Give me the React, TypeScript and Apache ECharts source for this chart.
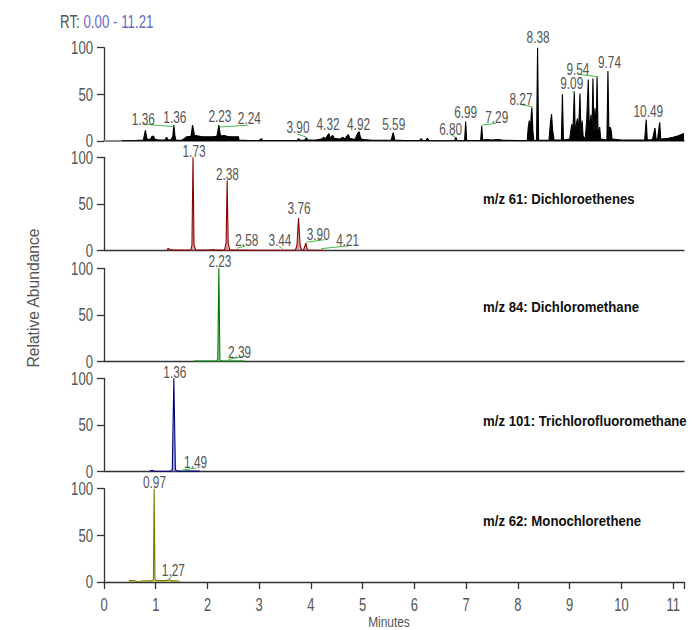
import React, { useEffect, useRef } from "react";
import * as echarts from "echarts";

const FONT = "'Liberation Sans', Arimo, Arial, sans-serif";

// x extent (minutes)
const xMin = 0;
const xMax = 11.21;
const xTickLabels = [0, 1, 2, 3, 4, 5, 6, 7, 8, 9, 10, 11];
const yTicks = [0, 50, 100];

// Total ion chromatogram [min, %]
const ticData: number[][] = [
  [0.35, 0.3], [0.6, 0.5], [0.76, 1], [0.78, 6], [0.8, 11.5], [0.82, 5], [0.84, 1.5], [0.9, 2], [0.93, 5], [0.96, 5], [0.98, 2],
  [1.05, 1], [1.18, 1], [1.21, 4], [1.24, 1], [1.3, 1.5], [1.33, 5], [1.35, 17], [1.37, 6], [1.39, 1], [1.5, 0.8], [1.55, 2.5],
  [1.6, 4.5], [1.68, 5], [1.7, 12], [1.71, 17], [1.73, 12], [1.75, 6], [1.85, 5], [1.9, 4.5], [2.0, 4.5], [2.1, 4.5], [2.18, 5],
  [2.2, 10], [2.22, 17], [2.24, 9], [2.26, 5], [2.3, 6], [2.38, 5], [2.45, 4.5], [2.6, 4.5], [2.61, 1], [2.8, 0.5], [3.0, 0.5],
  [3.04, 2.5], [3.07, 0.5], [3.5, 0.5], [3.74, 0.8], [3.76, 2.5], [3.79, 0.8], [3.88, 1], [3.91, 3.5], [3.94, 1], [4.1, 1],
  [4.2, 2], [4.25, 4], [4.28, 2], [4.32, 6], [4.35, 8], [4.37, 3], [4.42, 6], [4.45, 3], [4.55, 2], [4.62, 4], [4.65, 2],
  [4.72, 7], [4.75, 3], [4.85, 1.5], [4.9, 8], [4.93, 10], [4.96, 3], [5.0, 1.5], [5.2, 0.8], [5.55, 0.8], [5.59, 9], [5.62, 1],
  [5.8, 0.5], [6.1, 0.5], [6.13, 2.5], [6.16, 0.5], [6.22, 0.5], [6.25, 3], [6.28, 0.5], [6.5, 0.3], [6.78, 0.5], [6.8, 4],
  [6.82, 0.5], [6.97, 0.5], [6.99, 21], [7.01, 0.5], [7.28, 0.5], [7.3, 16], [7.32, 1], [7.4, 1.5], [7.5, 1], [7.6, 1.5],
  [7.7, 1], [8.0, 0.5], [8.18, 0.5], [8.2, 15], [8.22, 22], [8.24, 12], [8.26, 30], [8.27, 36], [8.29, 10], [8.31, 0.5],
  [8.36, 0.5], [8.38, 100], [8.4, 1], [8.6, 0.8], [8.63, 20], [8.65, 29], [8.67, 12], [8.7, 1], [8.84, 1], [8.86, 50],
  [8.88, 1], [9.0, 2], [9.04, 18], [9.06, 5], [9.09, 53], [9.11, 3], [9.13, 18], [9.15, 24], [9.17, 8], [9.2, 51], [9.22, 3],
  [9.24, 22], [9.26, 5], [9.3, 2], [9.33, 22], [9.36, 66], [9.38, 10], [9.41, 28], [9.43, 5], [9.45, 67], [9.47, 10],
  [9.49, 35], [9.51, 8], [9.53, 69], [9.55, 5], [9.58, 15], [9.6, 2], [9.72, 1], [9.74, 75], [9.76, 3], [9.78, 15],
  [9.8, 12], [9.82, 2], [10.0, 1], [10.45, 1], [10.48, 23], [10.5, 1], [10.6, 1.5], [10.65, 14], [10.67, 1.5], [10.7, 2],
  [10.74, 20], [10.76, 2], [10.9, 3], [11.0, 4], [11.1, 5.5], [11.21, 8],
];

// m/z 61: Dichloroethenes
const mz61Data: number[][] = [
  [1.22, 0.5], [1.24, 2.5], [1.27, 1], [1.35, 0.5], [1.5, 0.5], [1.68, 0.8], [1.7, 6], [1.72, 100], [1.74, 6], [1.77, 0.8],
  [2.0, 0.5], [2.12, 1.2], [2.14, 0.5], [2.33, 0.5], [2.36, 8], [2.38, 75], [2.4, 8], [2.43, 0.5], [2.6, 0.5], [3.0, 0.3],
  [3.5, 0.3], [3.7, 0.5], [3.73, 6], [3.76, 35], [3.79, 6], [3.82, 0.5], [3.86, 1], [3.9, 8], [3.93, 1], [3.98, 0.3], [4.24, 0.3],
];

// m/z 84: Dichloromethane
const mz84Data: number[][] = [
  [1.74, 0.7], [2.0, 0.7], [2.18, 0.7], [2.2, 3], [2.22, 100], [2.24, 2], [2.26, 0.7], [2.5, 0.7], [2.72, 0.7],
];

// m/z 101: Trichlorofluoromethane
const mz101Data: number[][] = [
  [0.88, 0.5], [0.93, 1.2], [0.97, 0.5], [1.1, 0.3], [1.28, 0.3], [1.32, 2], [1.35, 100], [1.38, 2], [1.42, 0.5], [1.6, 0.5], [1.85, 0.5],
];

// m/z 62: Monochlorethene
const mz62Data: number[][] = [
  [0.48, 1.5], [0.58, 1.5], [0.63, 0.5], [0.68, 0], [0.72, 1], [0.85, 1.2], [0.94, 1.2], [0.955, 3], [0.97, 100], [0.985, 3],
  [1.0, 1.5], [1.2, 1.5], [1.26, 2.5], [1.3, 1.2], [1.46, 1],
];

// Peak labels: [labelX (min), labelY (%), text]
const ticLabels: (number | string)[][] = [
  [0.76, 23.6, "1.36"], [1.37, 25.5, "1.36"], [2.24, 26.8, "2.23"], [2.81, 24, "2.24"], [3.75, 14.2, "3.90"],
  [4.33, 18, "4.32"], [4.92, 18.2, "4.92"], [5.6, 17.6, "5.59"], [6.7, 12.9, "6.80"], [6.99, 31.2, "6.99"],
  [7.59, 25.7, "7.29"], [8.06, 44.3, "8.27"], [8.39, 111, "8.38"], [9.04, 61.5, "9.09"], [9.16, 77.1, "9.54"],
  [9.77, 84, "9.74"], [10.52, 32, "10.49"],
];
const mz61Labels: (number | string)[][] = [
  [1.74, 106.5, "1.73"], [2.385, 81.6, "2.38"], [3.77, 44.8, "3.76"], [2.76, 10.7, "2.58"], [3.4, 10.7, "3.44"],
  [4.14, 17, "3.90"], [4.71, 10.7, "4.21"],
];
const mz84Labels: (number | string)[][] = [[2.24, 107.5, "2.23"], [2.62, 10, "2.39"]];
const mz101Labels: (number | string)[][] = [[1.37, 106.8, "1.36"], [1.77, 9.5, "1.49"]];
const mz62Labels: (number | string)[][] = [[0.976, 107, "0.97"], [1.34, 12, "1.27"]];

// Leader lines: [x1, y1, x2, y2]
const ticLeaders: number[][] = [
  [0.75, 18, 1.35, 15.5], [2.24, 15, 2.78, 16.9], [3.74, 7.2, 3.91, 4.3], [6.7, 7.2, 6.79, 4],
  [7.3, 16.9, 7.57, 19], [8.05, 39.1, 8.28, 36.6], [9.04, 53.4, 9.1, 50.8], [9.16, 71.7, 9.55, 68.8],
];
const mz61Leaders: number[][] = [
  [2.57, 2.5, 2.75, 5.3], [3.38, 4.6, 3.45, 2.1], [3.91, 8.9, 4.26, 11.7], [4.2, 2.1, 4.75, 5.3],
];
const mz84Leaders: number[][] = [[2.4, 2.2, 2.75, 6]];
const mz101Leaders: number[][] = [[1.5, 1.4, 1.79, 3.9]];
const mz62Leaders: number[][] = [[1.25, 2.9, 1.33, 7.5]];

const panelTitles = [
  "m/z 61: Dichloroethenes",
  "m/z 84: Dichloromethane",
  "m/z 101: Trichlorofluoromethane",
  "m/z 62: Monochlorethene",
];

const panels = [
  { data: ticData, labels: ticLabels, leaders: ticLeaders, color: "#000000", fill: "#000000" },
  { data: mz61Data, labels: mz61Labels, leaders: mz61Leaders, color: "#8b0000", fill: "rgba(190,90,90,0.55)" },
  { data: mz84Data, labels: mz84Labels, leaders: mz84Leaders, color: "#007a00", fill: "rgba(90,190,90,0.55)" },
  { data: mz101Data, labels: mz101Labels, leaders: mz101Leaders, color: "#00007a", fill: "rgba(100,100,210,0.55)" },
  { data: mz62Data, labels: mz62Labels, leaders: mz62Leaders, color: "#7a7a00", fill: "rgba(190,190,80,0.55)" },
];

const gridTops = [47.7, 157.3, 268.3, 378.3, 488.7];
const titleYs = [199, 307, 421, 521];

// condensed text helper (no narrow font installed -> horizontal scale)
function ctext(x: number, y: number, text: string, size: number, sx: number, align: string, fill: string, extra: any = {}) {
  return {
    type: "text",
    x,
    y,
    scaleX: sx,
    silent: true,
    z: 10,
    style: {
      text,
      fontFamily: FONT,
      fontSize: size,
      fill,
      textAlign: align,
      textVerticalAlign: "middle",
      ...extra,
    },
  };
}

export default function App() {
  const ref = useRef<HTMLDivElement>(null);
  useEffect(() => {
    if (!ref.current) return;
    const chart = echarts.init(ref.current, null, { renderer: "svg" });
    const last = panels.length - 1;
    const grid = panels.map((_, i) => ({ left: 104, width: 580, top: gridTops[i], height: 93.3 }));
    const xAxis = panels.map((_, i) => ({
      type: "value",
      gridIndex: i,
      min: xMin,
      max: xMax,
      interval: 1,
      splitLine: { show: false },
      axisLine: { show: true, onZero: false, lineStyle: { color: i === 0 ? "#888" : "#333", width: i === 0 ? 2 : 1.3 } },
      axisTick: { show: i === last, length: 7, lineStyle: { color: "#333", width: 1.3 } },
      axisLabel: { show: false },
    }));
    const yAxis = panels.map((_, i) => ({
      type: "value",
      gridIndex: i,
      min: yTicks[0],
      max: yTicks[yTicks.length - 1],
      interval: yTicks[1] - yTicks[0],
      splitLine: { show: false },
      axisLine: { show: true, lineStyle: { color: "#333", width: 1.3 } },
      axisTick: { show: true, length: 7, lineStyle: { color: "#333", width: 1.3 } },
      axisLabel: { show: false },
    }));
    const series: any[] = [];
    panels.forEach((p, i) => {
      series.push({
        type: "line",
        xAxisIndex: i,
        yAxisIndex: i,
        data: p.data,
        symbol: "none",
        lineStyle: { color: p.color, width: 1.1 },
        areaStyle: { color: p.fill, opacity: 1 },
        silent: true,
        z: 2,
        markLine: {
          silent: true,
          symbol: ["none", "none"],
          label: { show: false },
          lineStyle: { color: "#44bb44", width: 1, type: "solid" },
          data: p.leaders.map((l) => [{ coord: [l[0], l[1]] }, { coord: [l[2], l[3]] }]),
        },
      });
    });
    chart.setOption({
      animation: false,
      backgroundColor: "#fff",
      grid,
      xAxis,
      yAxis,
      series,
    });

    const px = (i: number, x: number, y: number) =>
      chart.convertToPixel({ gridIndex: i } as any, [x, y]) as number[];

    const graphic: any[] = [];
    // RT header
    graphic.push({
      type: "text",
      x: 60,
      y: 21.5,
      scaleX: 0.74,
      silent: true,
      style: {
        text: "{a|RT:} {b|0.00 - 11.21}",
        fontFamily: FONT,
        fontSize: 18,
        textVerticalAlign: "middle",
        rich: {
          a: { fontFamily: FONT, fontSize: 18, fill: "#555" },
          b: { fontFamily: FONT, fontSize: 18, fill: "#6a6ac8" },
        },
      },
    });
    // Y tick labels
    panels.forEach((_, i) => {
      yTicks.forEach((v) => {
        const p = px(i, xMin, v);
        graphic.push(ctext(p[0] - 11, p[1], String(v), 17.5, 0.75, "right", "#555"));
      });
    });
    // X tick labels (bottom panel)
    xTickLabels.forEach((v) => {
      const p = px(last, v, 0);
      graphic.push(ctext(p[0], p[1] + 23, String(v), 18, 0.72, "center", "#555"));
    });
    // Peak labels
    panels.forEach((pl, i) => {
      pl.labels.forEach((l) => {
        const p = px(i, l[0] as number, l[1] as number);
        graphic.push(ctext(p[0], p[1], String(l[2]), 16, 0.74, "center", "#555"));
      });
    });
    // Panel titles
    panelTitles.forEach((t, i) => {
      graphic.push(ctext(483, titleYs[i], t, 15, 0.88, "left", "#111", { fontWeight: "bold" }));
    });
    // Axis names
    graphic.push({
      type: "text",
      x: 33,
      y: 298,
      rotation: Math.PI / 2,
      scaleX: 0.92,
      silent: true,
      style: {
        text: "Relative Abundance",
        fontFamily: FONT,
        fontSize: 17,
        fill: "#555",
        textAlign: "center",
        textVerticalAlign: "middle",
      },
    });
    graphic.push(ctext(389, 622, "Minutes", 14, 0.85, "center", "#555"));

    chart.setOption({ graphic });
    return () => chart.dispose();
  }, []);
  return <div ref={ref} style={{ position: "absolute", left: 0, top: 0, width: 692, height: 630 }} />;
}
